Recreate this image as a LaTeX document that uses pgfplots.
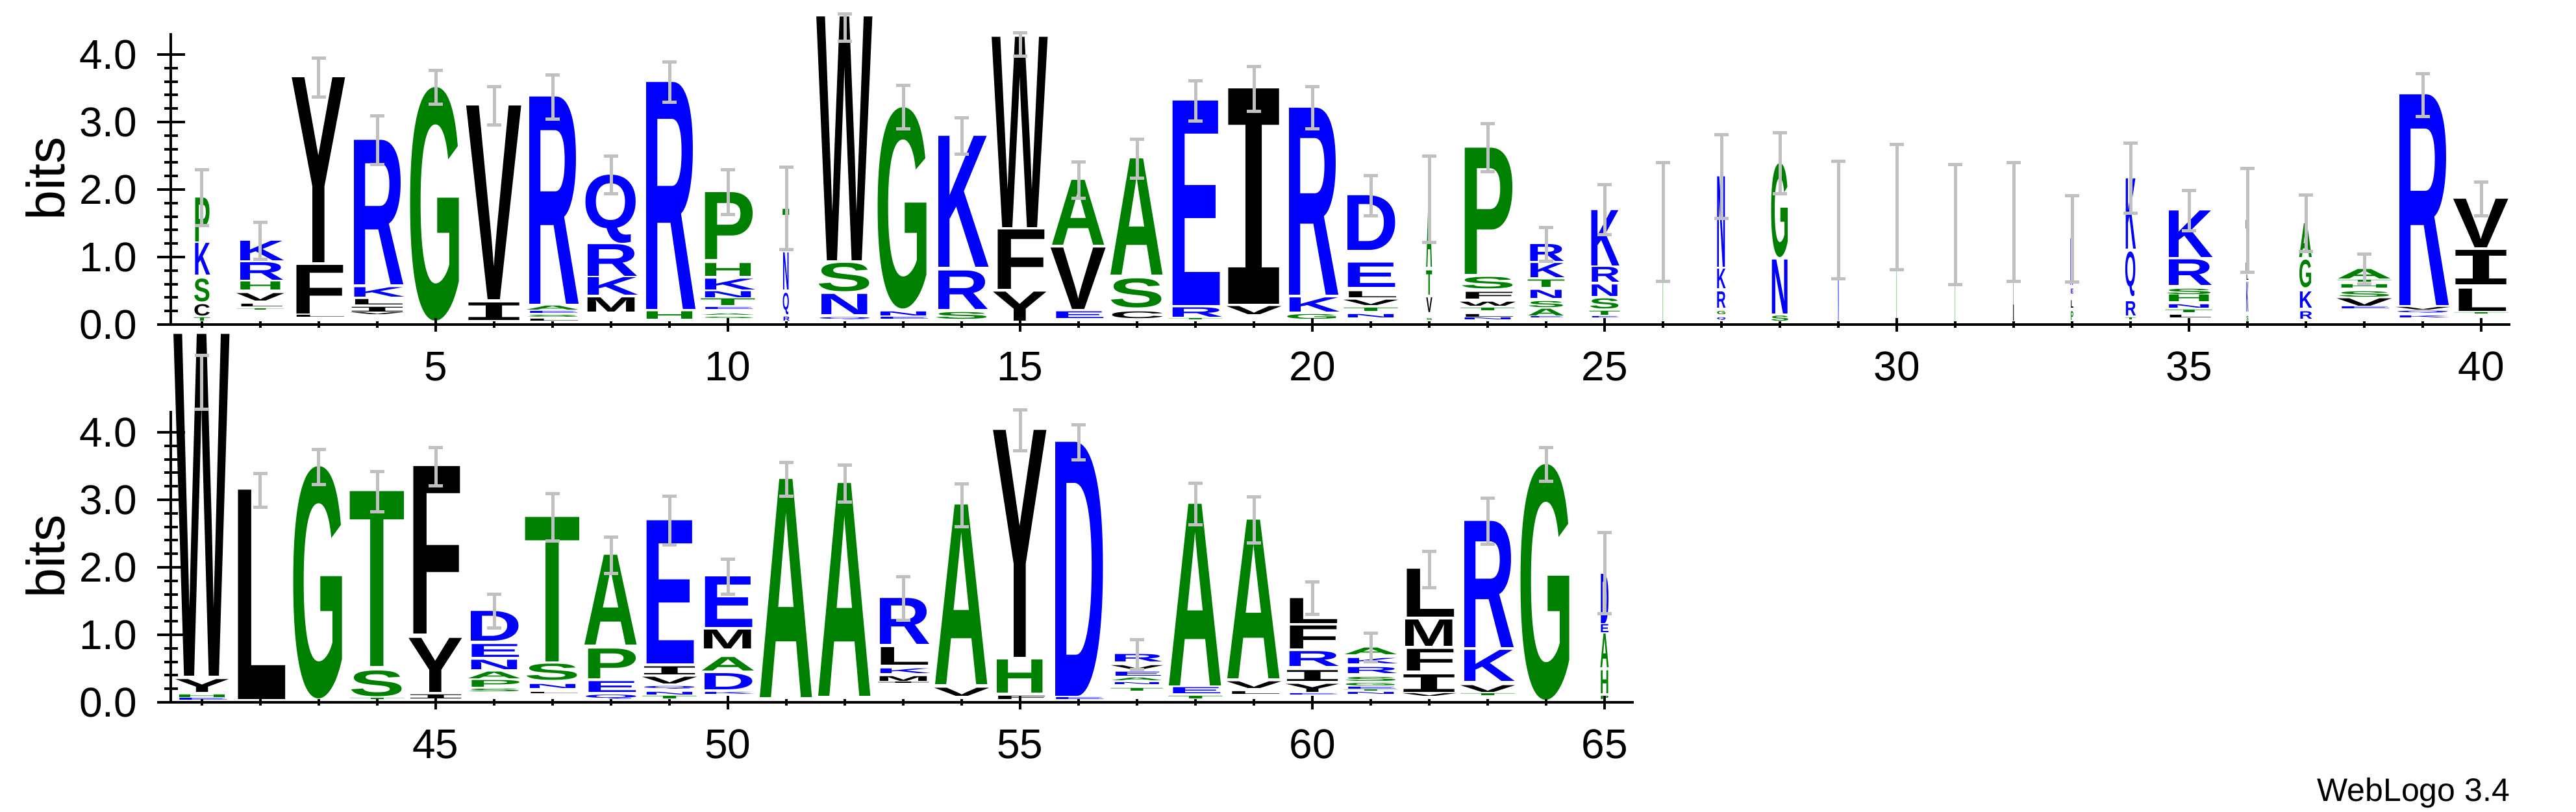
\documentclass[border=0pt]{standalone}
\usepackage{fontspec}
\setmainfont{Liberation Sans}
\newfontfamily\lettfnt{Liberation Sans}
\newfontfamily\monofnt{Liberation Mono}
\usepackage{graphicx}
\usepackage{pgfplots}
\usepackage{pgfplotstable}
\pgfplotsset{compat=1.18}

\definecolor{wlblue}{RGB}{0,0,255}
\definecolor{wlgreen}{RGB}{0,128,0}
\definecolor{wlblack}{RGB}{0,0,0}
\definecolor{errgray}{RGB}{192,192,192}
% hydrophobicity colouring
\colorlet{lR}{wlblue}\colorlet{lK}{wlblue}\colorlet{lD}{wlblue}
\colorlet{lE}{wlblue}\colorlet{lN}{wlblue}\colorlet{lQ}{wlblue}
\colorlet{lS}{wlgreen}\colorlet{lG}{wlgreen}\colorlet{lH}{wlgreen}
\colorlet{lT}{wlgreen}\colorlet{lA}{wlgreen}\colorlet{lP}{wlgreen}
\colorlet{lY}{wlblack}\colorlet{lV}{wlblack}\colorlet{lM}{wlblack}
\colorlet{lC}{wlblack}\colorlet{lL}{wlblack}\colorlet{lF}{wlblack}
\colorlet{lI}{wlblack}\colorlet{lW}{wlblack}

\newdimen\wlen \wlen=17.3pt
\newdimen\wlenI \wlenI=21pt
\newdimen\ylen \ylen=20.8pt
\def\tmpI{I}
\newcommand\logoletter[3]{\edef\tmpa{#1}%
  \color{l\tmpa}%
  \ifx\tmpa\tmpI\resizebox*{#2\wlenI}{#3\ylen}{\monofnt\bfseries I}%
  \else\resizebox*{#2\wlen}{#3\ylen}{\lettfnt\bfseries\tmpa}\fi}
\newcommand\tickfont{\fontsize{12.8}{13}\selectfont}
\newcommand\labfont{\fontsize{16.5}{17}\selectfont}

% x = position, y = bottom of letter (bits), h = height (bits), w = stack width, l = residue
\pgfplotstableread{
x y h w l
1 0.05 0.05 0.30 T
1 0.13 0.17 0.30 C
1 0.34 0.34 0.30 S
1 0.74 0.47 0.30 K
1 1.23 0.65 0.30 P
2 0.20 0.02 0.87 T
2 0.26 0.04 0.87 L
2 0.35 0.11 0.87 V
2 0.51 0.12 0.87 H
2 0.66 0.26 0.87 R
2 0.95 0.29 0.87 K
3 0.10 0.03 1 L
3 0.16 0.72 1 F
3 0.92 2.74 1 Y
4 0.14 0.03 1 V
4 0.19 0.07 1 I
4 0.29 0.08 1 L
4 0.41 0.14 1 K
4 0.59 2.14 1 R
5 0.05 3.46 1 G
6 0.06 0.26 1 I
6 0.37 2.87 1 V
7 0.04 0.03 1 L
7 0.10 0.03 1 S
7 0.155 0.03 1 E
7 0.22 0.06 1 A
7 0.30 3.07 1 R
8 0.19 0.21 1 M
8 0.44 0.26 1 K
8 0.72 0.47 1 R
8 1.21 1.01 1 Q
9 0.08 0.11 1 H
9 0.23 3.36 1 R
10 0.08 0.02 1 S
10 0.13 0.02 1 A
10 0.22 0.03 1 E
10 0.28 0.10 1 T
10 0.40 0.09 1 N
10 0.51 0.16 1 K
10 0.72 0.19 1 H
10 0.97 0.99 1 P
11 0.05 0.06 0.12 R
11 0.15 0.32 0.12 Q
11 0.51 0.55 0.12 N
11 1.16 0.55 0.12 T
12 0.07 0.03 1 Q
12 0.15 0.30 1 N
12 0.49 0.42 1 S
12 0.95 3.61 1 W
13 0.07 0.03 1 E
13 0.13 0.06 1 N
13 0.23 2.98 1 G
14 0.08 0.10 1 S
14 0.23 0.57 1 R
14 0.85 1.94 1 K
15 0.05 0.43 1 Y
15 0.52 0.88 1 F
15 1.44 2.82 1 W
16 0.09 0.10 1 E
16 0.23 0.91 1 V
16 1.18 0.96 1 A
17 0.09 0.10 1 C
17 0.25 0.43 1 S
17 0.74 1.72 1 A
18 0.06 0.02 1 T
18 0.11 0.14 1 R
18 0.28 3.03 1 E
19 0.15 0.12 1 V
19 0.30 3.19 1 I
20 0.08 0.07 1 G
20 0.19 0.21 1 K
20 0.44 2.77 1 R
21 0.10 0.05 1 N
21 0.20 0.05 1 T
21 0.28 0.08 1 V
21 0.40 0.09 1 L
21 0.55 0.36 1 E
21 1.10 0.81 1 D
22 0.05 0.03 0.11 S
22 0.18 0.22 0.11 V
22 0.44 0.36 0.11 T
22 0.85 1.01 0.11 A
23 0.06 0.03 1 N
23 0.11 0.04 1 L
23 0.20 0.04 1 T
23 0.27 0.06 1 W
23 0.38 0.10 1 F
23 0.53 0.17 1 S
23 0.75 1.87 1 P
24 0.09 0.02 0.68 E
24 0.13 0.10 0.68 A
24 0.25 0.09 0.68 S
24 0.39 0.12 0.68 N
24 0.55 0.11 0.68 T
24 0.70 0.21 0.68 K
24 0.94 0.25 0.68 R
25 0.09 0.02 0.56 E
25 0.14 0.06 0.56 T
25 0.23 0.15 0.56 S
25 0.42 0.17 0.56 N
25 0.63 0.22 0.56 R
25 0.87 0.82 0.56 K
26 0.05 1.47 0.02 T
27 0.06 0.04 0.17 Q
27 0.15 0.05 0.17 G
27 0.25 0.24 0.17 R
27 0.53 0.29 0.17 K
27 0.85 1.34 0.17 N
28 0.05 0.075 0.34 S
28 0.16 0.80 0.34 N
28 1.00 1.39 0.34 G
29 0.05 1.50 0.02 N
30 0.05 1.69 0.02 T
31 0.05 1.43 0.02 T
32 0.05 1.47 0.015 L
33 0.06 0.13 0.05 P
33 0.25 0.11 0.05 L
33 0.46 0.07 0.05 E
33 0.58 0.69 0.05 K
34 0.06 0.03 0.20 T
34 0.13 0.21 0.20 R
34 0.42 0.66 0.20 Q
34 1.12 1.04 0.20 K
35 0.10 0.04 0.87 L
35 0.17 0.04 0.87 T
35 0.25 0.05 0.87 N
35 0.34 0.10 0.87 H
35 0.45 0.08 0.87 S
35 0.58 0.38 0.87 R
35 1.00 0.69 0.87 K
36 0.05 0.07 0.04 S
36 0.19 0.44 0.04 K
36 0.66 0.08 0.04 L
36 0.78 0.76 0.04 I
37 0.08 0.11 0.24 R
37 0.25 0.24 0.24 K
37 0.55 0.41 0.24 G
37 1.00 0.50 0.24 A
38 0.23 0.03 1 E
38 0.27 0.11 1 V
38 0.41 0.08 1 S
38 0.54 0.05 1 H
38 0.62 0.03 1 T
38 0.68 0.14 1 A
39 0.09 0.03 1 K
39 0.16 0.03 1 Q
39 0.21 0.04 1 V
39 0.28 3.12 1 R
40 0.14 0.02 1 T
40 0.20 0.33 1 L
40 0.59 0.51 1 I
40 1.14 0.72 1 V
}\tabtop

\pgfplotstableread{
x y h w l
41 0.02 0.03 1 E
41 0.07 0.04 1 H
41 0.15 0.19 1 Y
41 0.39 5.06 1 W
42 0.04 3.10 1 L
43 0.05 3.44 1 G
44 0.03 0.02 1 T
44 0.09 0.38 1 S
44 0.53 2.59 1 T
45 0.05 0.06 1 I
45 0.15 0.80 1 Y
45 1.01 2.48 1 F
46 0.15 0.04 1 S
46 0.23 0.10 1 P
46 0.35 0.10 1 A
46 0.49 0.14 1 N
46 0.67 0.19 1 E
46 0.91 0.44 1 D
47 0.12 0.02 1 L
47 0.21 0.06 1 N
47 0.33 0.24 1 S
47 0.60 2.14 1 T
48 0.05 0.06 1 Q
48 0.15 0.16 1 E
48 0.35 0.44 1 P
48 0.85 1.33 1 A
49 0.05 0.04 1 T
49 0.11 0.04 1 N
49 0.19 0.04 1 Q
49 0.27 0.10 1 V
49 0.41 0.12 1 I
49 0.57 2.12 1 E
50 0.11 0.03 1 K
50 0.19 0.24 1 D
50 0.47 0.20 1 A
50 0.79 0.28 1 M
50 1.11 0.75 1 E
51 0.07 3.23 1 A
52 0.09 3.15 1 A
53 0.27 0.02 1 I
53 0.31 0.07 1 M
53 0.43 0.07 1 K
53 0.55 0.26 1 L
53 0.86 0.68 1 R
54 0.09 0.12 1 V
54 0.26 2.66 1 A
55 0.04 0.05 1 F
55 0.14 0.49 1 H
55 0.67 3.36 1 Y
56 0.03 0.03 1 E
56 0.09 3.76 1 D
57 0.16 0.04 0.96 T
57 0.26 0.03 0.96 N
57 0.32 0.04 0.96 A
57 0.39 0.06 0.96 E
57 0.49 0.06 0.96 V
57 0.60 0.11 0.96 R
58 0.05 0.04 1 T
58 0.13 0.09 1 E
58 0.25 2.69 1 A
59 0.12 0.04 1 L
59 0.21 0.10 1 V
59 0.35 2.35 1 A
60 0.10 0.02 1 E
60 0.15 0.12 1 Y
60 0.31 0.16 1 I
60 0.53 0.22 1 R
60 0.79 0.34 1 F
60 1.17 0.37 1 L
61 0.11 0.03 1 N
61 0.15 0.02 1 T
61 0.19 0.03 1 E
61 0.24 0.04 1 G
61 0.31 0.06 1 S
61 0.43 0.09 1 R
61 0.57 0.08 1 K
61 0.71 0.10 1 A
62 0.09 0.04 1 V
62 0.15 0.26 1 I
62 0.47 0.32 1 F
62 0.83 0.39 1 M
62 1.26 0.71 1 L
63 0.09 0.03 1 T
63 0.15 0.10 1 V
63 0.31 0.46 1 K
63 0.81 1.87 1 R
64 0.03 3.49 1 G
65 0.04 0.05 0.16 P
65 0.13 0.34 0.16 H
65 0.51 0.50 0.16 A
65 1.03 0.12 0.16 E
65 1.17 0.73 0.16 D
}\tabbot

% error bars: centre and half length
\pgfplotstableread{
x c e
1 1.88 0.41
2 1.24 0.27
3 3.66 0.29
4 2.73 0.36
5 3.51 0.25
6 3.24 0.28
7 3.37 0.33
8 2.22 0.28
9 3.59 0.30
10 1.96 0.33
11 1.72 0.61
12 4.40 0.20
13 3.22 0.32
14 2.79 0.27
15 4.15 0.17
16 2.14 0.27
17 2.46 0.29
18 3.31 0.30
19 3.49 0.33
20 3.21 0.31
21 1.91 0.30
22 1.86 0.64
23 2.62 0.36
24 1.19 0.25
25 1.70 0.37
26 1.52 0.88
27 2.19 0.62
28 2.39 0.45
29 1.55 0.87
30 1.74 0.93
31 1.48 0.89
32 1.52 0.88
33 1.27 0.64
34 2.17 0.52
35 1.69 0.30
36 1.54 0.77
37 1.50 0.42
38 0.82 0.22
39 3.40 0.32
40 1.86 0.25
}\errtop

\pgfplotstableread{
x c e
41 4.74 0.40
42 3.14 0.25
43 3.49 0.26
44 3.12 0.30
45 3.49 0.28
46 1.35 0.25
47 2.74 0.35
48 2.18 0.27
49 2.69 0.36
50 1.86 0.26
51 3.30 0.25
52 3.24 0.27
53 1.54 0.32
54 2.92 0.32
55 4.03 0.30
56 3.85 0.26
57 0.71 0.22
58 2.94 0.31
59 2.70 0.34
60 1.54 0.24
61 0.81 0.21
62 1.97 0.27
63 2.68 0.34
64 3.52 0.25
65 1.91 0.60
}\errbot

\pgfplotsset{
  logobase/.style={anchor=south west, x=18pt, y=20.8pt, ymin=0, ymax=4.32,
    clip=false, axis line style={line width=0.8pt},
    tick style={line width=0.8pt, black}, tick align=outside,
    /pgf/number format/assume math mode=true,
    tick label style={font=\tickfont}},
  yside/.style={hide x axis, axis y line=left, y axis line style={-},
    ytick={0,1,2,3,4},
    minor y tick num=4, major tick length=8.6pt, minor tick length=4.2pt,
    yticklabel style={/pgf/number format/.cd, fixed, fixed zerofill, precision=1},
    yticklabel shift=2.6pt,
    ylabel={bits},
    every axis y label/.style={at={(axis description cs:#1,0.5)}, rotate=90,
      anchor=center, font=\labfont}},
  xside/.style={hide y axis, axis x line=bottom, x axis line style={-},
    major tick length=4.2pt, minor tick length=2.1pt, xticklabel shift=2.8pt},
  letters/.style={draw=none, mark=none, point meta=explicit symbolic,
    visualization depends on={\thisrow{w}\as\ww},
    visualization depends on={\thisrow{h}\as\hh},
    nodes near coords={\logoletter{\pgfplotspointmeta}{\ww}{\hh}},
    every node near coord/.append style={anchor=south, inner sep=0pt,
      outer sep=0pt}},
  errbars/.style={draw=none, mark=none,
    error bars/.cd, y dir=both, y explicit, error mark=|,
    error bar style={draw=errgray, line width=1pt},
    error mark options={draw=errgray, line width=1pt, mark size=2.2pt}},
}

\begin{document}
\begin{tikzpicture}
\useasboundingbox (0,0) rectangle (793.4pt,250pt);

% top row, positions 1-40
\begin{axis}[logobase, yside=-0.05365, at={(52.66pt,150pt)},
  xmin=0.47, xmax=40.5]
\addplot[letters] table[x=x, y=y, meta=l] {\tabtop};
\end{axis}
\begin{axis}[logobase, xside, at={(52.66pt,150pt)},
  xmin=0.47, xmax=40.5, xtick={5,10,...,40}, minor xtick={1,...,40}]
\addplot[errbars] table[x=x, y=c, y error=e] {\errtop};
\end{axis}

% bottom row, positions 41-65
\begin{axis}[logobase, yside=-0.0858, at={(52.66pt,33.6pt)},
  xmin=40.47, xmax=65.5]
\addplot[letters] table[x=x, y=y, meta=l] {\tabbot};
\end{axis}
\begin{axis}[logobase, xside, at={(52.66pt,33.6pt)},
  xmin=40.47, xmax=65.5, xtick={45,50,...,65}, minor xtick={41,...,65}]
\addplot[errbars] table[x=x, y=c, y error=e] {\errbot};
\end{axis}

\node[anchor=base east, font=\fontsize{10}{10}\selectfont, inner sep=0pt]
  at (773.2pt,3.2pt) {WebLogo 3.4};
\end{tikzpicture}
\end{document}
